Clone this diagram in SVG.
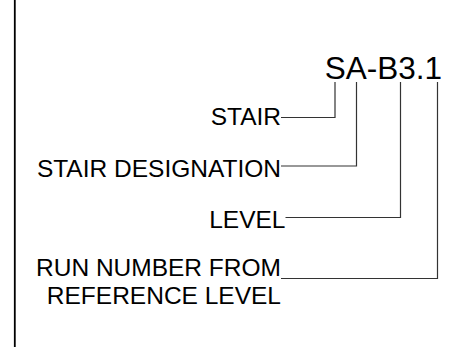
<svg xmlns="http://www.w3.org/2000/svg" width="465" height="347" viewBox="0 0 465 347">
<style>
text{font-family:"Liberation Sans",Arial,sans-serif;fill:#000;text-anchor:end}
.lbl{font-size:24.5px}
.tag{font-size:31.5px}
.ld{fill:none;stroke:#333;stroke-width:1.2}
</style>
<rect width="465" height="347" fill="#fff"/>
<line x1="14.8" y1="0" x2="14.8" y2="347" stroke="#000" stroke-width="1.8"/>
<g id="tag"><text class="tag" x="442" y="78.5">SA-B3.1</text></g>
<g id="stair"><text class="lbl" x="281" y="124.5">STAIR</text></g>
<g id="designation"><text class="lbl" x="281" y="176.5">STAIR DESIGNATION</text></g>
<g id="level"><text class="lbl" x="285.5" y="228">LEVEL</text></g>
<g id="run"><text class="lbl" x="281" y="276">RUN NUMBER FROM</text><text class="lbl" x="281" y="303.5">REFERENCE LEVEL</text></g>
<g id="connectors">
<polyline class="ld" points="335,82 335,117.5 281,117.5"/>
<polyline class="ld" points="356.5,82 356.5,166 281,166"/>
<polyline class="ld" points="400.5,82 400.5,217.5 285.5,217.5"/>
<polyline class="ld" points="437.5,82 437.5,278.5 281,278.5"/>
</g>
</svg>
